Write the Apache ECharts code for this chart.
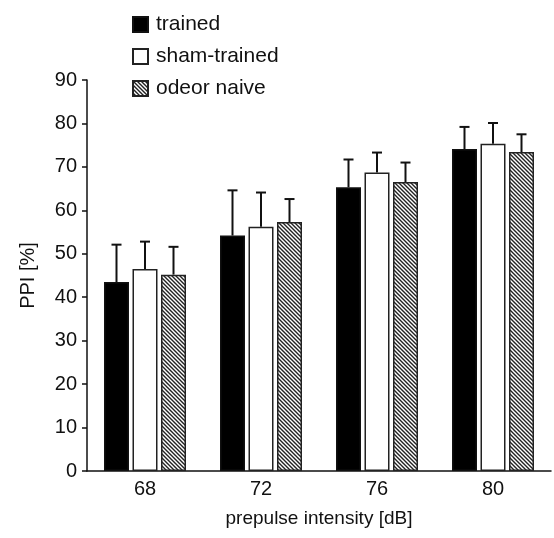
<!DOCTYPE html>
<html>
<head>
<meta charset="utf-8">
<script src="https://cdn.jsdelivr.net/npm/echarts@6/dist/echarts.min.js"></script>
<style>
  html, body { margin: 0; padding: 0; background: #fff; }
  #chart { width: 554px; height: 538px; }
</style>
</head>
<body>
<div id="chart"></div>
<script>
// PPI per prepulse intensity, three groups (mean and upper error bar end)
var categories = ['68', '72', '76', '80'];
var seriesNames = ['trained', 'sham-trained', 'odeor naive'];
var trained = [43.5, 54.2, 65.3, 74.1];
var trainedErr = [52.1, 64.6, 71.7, 79.2];
var sham = [46.5, 56.2, 68.7, 75.3];
var shamErr = [52.8, 64.1, 73.3, 80.1];
var naive = [45.2, 57.3, 66.5, 73.4];
var naiveErr = [51.6, 62.6, 71.0, 77.5];
var yTicks = [0, 90, 10];

var FONT = 'Liberation Sans, Arial, sans-serif';
var BAR_W = 25, BAR_GAP = 3.5;

// diagonal hatch for the naive group
function hatch() {
	var c = document.createElement('canvas');
	c.width = 4; c.height = 4;
	var ctx = c.getContext('2d');
	ctx.fillStyle = '#fff';
	ctx.fillRect(0, 0, 4, 4);
	ctx.strokeStyle = '#222';
	ctx.lineWidth = 1.4;
	ctx.beginPath();
	ctx.moveTo(-1, -1); ctx.lineTo(5, 5);
	ctx.moveTo(-1, 3); ctx.lineTo(1, 5);
	ctx.moveTo(3, -1); ctx.lineTo(5, 1);
	ctx.stroke();
	return c;
}

var fills = [
	{ color: '#000', borderColor: '#111' },
	{ color: '#fff', borderColor: '#222' },
	{ color: { image: hatch(), repeat: 'repeat' }, borderColor: '#222' }
];

function errSeries(idx, tops) {
	return {
		type: 'custom',
		z: 1,
		data: tops.map(function (v, i) { return [i, v]; }),
		renderItem: function (params, api) {
			var i = api.value(0);
			var base = api.coord([i, [trained, sham, naive][idx][i]]);
			var top = api.coord([i, api.value(1)]);
			var x = base[0] + (idx - 1) * (BAR_W + BAR_GAP);
			var style = { stroke: '#111', lineWidth: 2 };
			return {
				type: 'group',
				children: [
					{ type: 'line', shape: { x1: x, y1: base[1], x2: x, y2: top[1] }, style: style },
					{ type: 'line', shape: { x1: x - 5, y1: top[1], x2: x + 5, y2: top[1] }, style: style }
				]
			};
		},
		silent: true
	};
}

var myChart = echarts.init(document.getElementById('chart'));
var option = {
	animation: false,
	textStyle: { fontFamily: FONT },
	legend: {
		orient: 'vertical',
		left: 127,
		top: 9,
		itemWidth: 15,
		itemHeight: 15,
		itemGap: 11,
		icon: 'rect',
		data: seriesNames,
		textStyle: { fontSize: 21, lineHeight: 21, color: '#111', fontFamily: FONT, padding: [0, 0, 0, 3] }
	},
	grid: {
		left: 87,
		right: 3,
		top: 80,
		bottom: 67
	},
	xAxis: {
		type: 'category',
		data: categories,
		name: 'prepulse intensity [dB]',
		nameLocation: 'middle',
		nameGap: 38,
		nameTextStyle: { fontSize: 19, color: '#111' },
		axisLine: { lineStyle: { color: '#111', width: 1.5 } },
		axisTick: { lineStyle: { color: '#111', width: 1.5 }, length: 5 },
		axisLabel: { fontSize: 20, color: '#111', margin: 8 }
	},
	yAxis: {
		type: 'value',
		min: yTicks[0],
		max: yTicks[1],
		interval: yTicks[2],
		name: 'PPI [%]',
		nameLocation: 'middle',
		nameGap: 49,
		nameTextStyle: { fontSize: 20, color: '#111' },
		axisLine: { show: true, lineStyle: { color: '#111', width: 1.5 } },
		axisTick: { show: true, lineStyle: { color: '#111', width: 1.5 }, length: 5 },
		axisLabel: { fontSize: 20, color: '#111', margin: 10 },
		splitLine: { show: false }
	},
	series: [
		{ name: seriesNames[0], type: 'bar', data: trained },
		{ name: seriesNames[1], type: 'bar', data: sham },
		{ name: seriesNames[2], type: 'bar', data: naive }
	].map(function (s, i) {
		s.barWidth = BAR_W;
		s.barGap = (BAR_GAP / BAR_W * 100) + '%';
		s.z = 2;
		s.itemStyle = { color: fills[i].color, borderColor: fills[i].borderColor, borderWidth: 1.5 };
		return s;
	}).concat([errSeries(0, trainedErr), errSeries(1, shamErr), errSeries(2, naiveErr)])
};
myChart.setOption(option);
</script>
</body>
</html>
